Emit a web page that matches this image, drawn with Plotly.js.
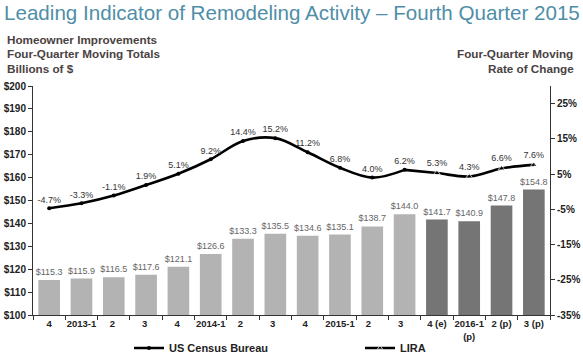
<!DOCTYPE html>
<html>
<head>
<meta charset="utf-8">
<script src="https://cdn.plot.ly/plotly-3.0.1.min.js"></script>
<style>html,body{margin:0;padding:0;background:#fff;}#chart{width:583px;height:356px;}</style>
</head>
<body>
<div id="chart"></div>
<script>
// ---- data ----
var categories = ['4', '2013-1', '2 ', '3 ', '4 ', '2014-1', '2  ', '3  ', '4  ', '2015-1', '2   ', '3   ', '4 (e)', '2016-1<br>(p)', '2 (p)', '3 (p)'];
var spending = [115.3, 115.9, 116.5, 117.6, 121.1, 126.6, 133.3, 135.5, 134.6, 135.1, 138.7, 144.0, 141.7, 140.9, 147.8, 154.8];
var censusIdx = [0,1,2,3,4,5,6,7,8,9,10,11];
var censusRate = [-4.7, -3.3, -1.1, 1.9, 5.1, 9.2, 14.4, 15.2, 11.2, 6.8, 4.0, 6.2];
var liraIdx = [11,12,13,14,15];
var liraRate = [6.2, 5.3, 4.3, 6.6, 7.6];
var liraLabels = ['', '5.3%', '4.3%', '6.6%', '7.6%'];
var leftTicks = [100,110,120,130,140,150,160,170,180,190,200];
var rightTicks = [-35,-25,-15,-5,5,15,25];
var nEstimated = 4; // last bars: estimates / projections

// ---- styling ----
var W = 583, H = 356;
var M = {l: 33, r: 33, t: 86, b: 41, autoexpand: false};
var PH = H - M.t - M.b, PW = W - M.l - M.r;
function py(p){ return (H - M.b - p) / PH; }
function px(p){ return (p - M.l) / PW; }
var FONT = '"Liberation Sans", Arial, sans-serif';
var barColors = spending.map(function(v,i){ return i >= spending.length - nEstimated ? '#757575' : '#b3b3b3'; });

var barTrace = {
  type: 'bar', x: categories, y: spending, yaxis: 'y',
  marker: {color: barColors, line: {width: 0}},
  text: spending.map(function(v){ return '$' + v.toFixed(1); }),
  textposition: 'outside', constraintext: 'none', cliponaxis: false,
  textfont: {family: FONT, size: 9, color: '#666'},
  showlegend: false, hoverinfo: 'skip'
};
var censusTrace = {
  type: 'scatter', mode: 'lines+markers+text', name: 'US Census Bureau', legend: 'legend',
  x: censusIdx.map(function(i){ return categories[i]; }), y: censusRate, yaxis: 'y2',
  line: {color: '#000', width: 2.6, shape: 'spline', smoothing: 1},
  marker: {symbol: 'circle', size: 4, color: '#000'},
  text: censusRate.map(function(v){ return v.toFixed(1) + '%'; }),
  textposition: 'top center', cliponaxis: false,
  textfont: {family: FONT, size: 9, color: '#333'}
};
var liraTrace = {
  type: 'scatter', mode: 'lines+markers+text', name: 'LIRA', legend: 'legend2',
  x: liraIdx.map(function(i){ return categories[i]; }), y: liraRate, yaxis: 'y2',
  line: {color: '#000', width: 2.6, shape: 'spline', smoothing: 1},
  marker: {symbol: 'triangle-up', size: [0,6,6,6,6], color: '#000'},
  text: liraLabels,
  textposition: 'top center', cliponaxis: false,
  textfont: {family: FONT, size: 9, color: '#333'}
};

var subColor = '#4a4242';
function ann(text, x, y, xanchor){
  return {text: text, xref: 'paper', yref: 'paper', x: px(x), y: py(y), xanchor: xanchor, yanchor: 'middle',
          showarrow: false, font: {family: FONT, size: 11.7, color: subColor, weight: 'bold'}};
}
var tickFont = {family: FONT, size: 10, color: '#222', weight: 'bold'};
var xTickFont = {family: FONT, size: 9.5, color: '#222', weight: 'bold'};
var legFont = {family: FONT, size: 11, color: '#222', weight: 'bold'};

var layout = {
  width: W, height: H,
  margin: M,
  paper_bgcolor: '#fff', plot_bgcolor: '#fff',
  bargap: 0.33,
  title: {text: 'Leading Indicator of Remodeling Activity \u2013 Fourth Quarter 2015',
          x: 4 / W, xanchor: 'left', xref: 'container', y: 1 - 13 / H, yanchor: 'middle', yref: 'container',
          font: {family: FONT, size: 20.6, color: '#4f8ea8'}},
  xaxis: {type: 'category', range: [-0.5, 15.5], showline: true, linecolor: '#333', linewidth: 1,
          ticks: 'outside', ticklen: 4, tickcolor: '#333', tickson: 'boundaries', tickangle: 0, automargin: false,
          tickfont: xTickFont, showgrid: false, zeroline: false},
  yaxis: {range: [100, 200], tickvals: leftTicks, ticktext: leftTicks.map(function(v){ return '$' + v; }),
          showline: true, linecolor: '#333', linewidth: 1, automargin: false,
          ticks: 'outside', ticklen: 4, tickcolor: '#333', showgrid: false, zeroline: false, tickfont: tickFont},
  yaxis2: {range: [-35, 30], tickvals: rightTicks, ticktext: rightTicks.map(function(v){ return v + '%'; }),
           overlaying: 'y', side: 'right', automargin: false,
           showline: true, linecolor: '#333', linewidth: 1, ticks: 'outside', ticklen: 4, tickcolor: '#333',
           showgrid: false, zeroline: false, tickfont: tickFont},
  legend: {orientation: 'h', x: px(129), xanchor: 'left', y: py(348), yanchor: 'middle',
           itemwidth: 30, font: legFont, bgcolor: 'rgba(0,0,0,0)'},
  legend2: {orientation: 'h', x: px(360), xanchor: 'left', y: py(348), yanchor: 'middle',
           itemwidth: 30, font: legFont, bgcolor: 'rgba(0,0,0,0)'},
  annotations: [
    ann('Homeowner Improvements', 5, 40, 'left'),
    ann('Four-Quarter Moving Totals', 5, 54, 'left'),
    ann('Billions of $', 5, 68, 'left'),
    ann('Four-Quarter Moving', 455, 54, 'left'),
    ann('Rate of Change', 486, 68, 'left')
  ]
};

Plotly.newPlot('chart', [barTrace, censusTrace, liraTrace], layout, {displayModeBar: false, staticPlot: true});
</script>
</body>
</html>
